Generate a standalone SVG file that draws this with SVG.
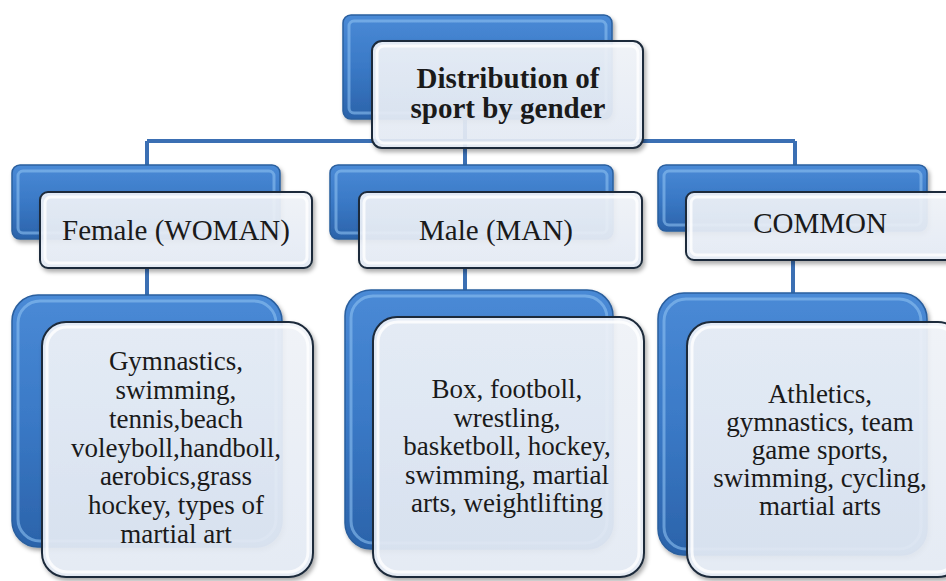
<svg xmlns="http://www.w3.org/2000/svg" width="946" height="581" viewBox="0 0 946 581" font-family="'Liberation Serif', 'Times New Roman', serif">
<defs>
<linearGradient id="blueG" x1="0" y1="0" x2="0" y2="1">
<stop offset="0" stop-color="#4a8ad6"/>
<stop offset="0.5" stop-color="#3a79c6"/>
<stop offset="1" stop-color="#2b63aa"/>
</linearGradient>
<linearGradient id="whiteG" x1="0" y1="0" x2="0" y2="1">
<stop offset="0" stop-color="#f3f6fb"/>
<stop offset="1" stop-color="#e6edf7"/>
</linearGradient>
<filter id="sh" x="-10%" y="-10%" width="130%" height="130%">
<feDropShadow dx="2" dy="3" stdDeviation="2" flood-color="#000" flood-opacity="0.35"/>
</filter>
</defs>
<style>
.back{fill:url(#blueG);stroke:#2a5f9e;stroke-width:1.5;filter:url(#sh)}
.bevel{fill:none;stroke:#8cc0f0;stroke-width:3;opacity:0.6}
.front{fill:url(#whiteG);fill-opacity:0.9;stroke:#1c2a3a;stroke-width:2;filter:url(#sh)}
.fbevel{fill:none;stroke:#ffffff;stroke-width:3;opacity:0.8}
.conn{stroke:#3b6fb3;stroke-width:4;fill:none}
text{font-family:'Liberation Serif',serif;fill:#1a1a1a;text-anchor:middle}
.t{font-size:29px}
.b{font-size:29px;font-weight:bold}
.c{font-size:27px}
</style>
<g id="connectors">
<path class="conn" d="M465 120 V165"/>
<path class="conn" d="M147 141 H795"/>
<path class="conn" d="M147 141 V165"/>
<path class="conn" d="M795 141 V165"/>
<path class="conn" d="M147 268 V295"/>
<path class="conn" d="M465 268 V290"/>
<path class="conn" d="M793 260 V293"/>
</g>
<g id="root">
<rect class="back" x="343" y="15" width="269" height="104" rx="8"/>
<rect class="bevel" x="349" y="21" width="257" height="92" rx="5"/>
<rect class="front" x="372" y="41" width="271" height="107" rx="10"/>
<rect class="fbevel" x="377" y="46" width="261" height="97" rx="7"/>
<text class="b" x="508" y="88">Distribution of</text>
<text class="b" x="508" y="118">sport by gender</text>
</g>
<g id="female">
<rect class="back" x="12" y="165" width="268" height="74" rx="8"/>
<rect class="bevel" x="18" y="171" width="256" height="62" rx="5"/>
<rect class="front" x="40" y="192" width="272" height="76" rx="8"/>
<rect class="fbevel" x="45" y="197" width="262" height="66" rx="6"/>
<text class="t" x="176" y="240">Female (WOMAN)</text>
</g>
<g id="male">
<rect class="back" x="330" y="165" width="283" height="74" rx="8"/>
<rect class="bevel" x="336" y="171" width="271" height="62" rx="5"/>
<rect class="front" x="359" y="192" width="283" height="76" rx="8"/>
<rect class="fbevel" x="364" y="197" width="273" height="66" rx="6"/>
<text class="t" x="496" y="240">Male (MAN)</text>
</g>
<g id="common">
<rect class="back" x="658" y="165" width="269" height="66" rx="8"/>
<rect class="bevel" x="664" y="171" width="257" height="54" rx="5"/>
<rect class="front" x="686" y="192" width="275" height="68" rx="8"/>
<rect class="fbevel" x="691" y="197" width="265" height="58" rx="6"/>
<text class="t" x="820" y="233">COMMON</text>
</g>
<g id="female-sports">
<rect class="back" x="12" y="295" width="270" height="252" rx="26"/>
<rect class="bevel" x="18" y="301" width="258" height="240" rx="22"/>
<rect class="front" x="42" y="322" width="271" height="255" rx="24"/>
<rect class="fbevel" x="47" y="327" width="261" height="245" rx="20"/>
<text class="c" x="176" y="370">Gymnastics,</text>
<text class="c" x="176" y="399">swimming,</text>
<text class="c" x="176" y="428">tennis,beach</text>
<text class="c" x="176" y="457">voleyboll,handboll,</text>
<text class="c" x="176" y="485">aerobics,grass</text>
<text class="c" x="176" y="514">hockey, types of</text>
<text class="c" x="176" y="543">martial art</text>
</g>
<g id="male-sports">
<rect class="back" x="345" y="290" width="268" height="259" rx="26"/>
<rect class="bevel" x="351" y="296" width="256" height="247" rx="22"/>
<rect class="front" x="373" y="317" width="271" height="260" rx="24"/>
<rect class="fbevel" x="378" y="322" width="261" height="250" rx="20"/>
<text class="c" x="507" y="398">Box, footboll,</text>
<text class="c" x="507" y="427">wrestling,</text>
<text class="c" x="507" y="455">basketboll, hockey,</text>
<text class="c" x="507" y="484">swimming, martial</text>
<text class="c" x="507" y="512">arts, weightlifting</text>
</g>
<g id="common-sports">
<rect class="back" x="658" y="293" width="269" height="262" rx="26"/>
<rect class="bevel" x="664" y="299" width="257" height="250" rx="22"/>
<rect class="front" x="687" y="322" width="275" height="255" rx="24"/>
<rect class="fbevel" x="692" y="327" width="265" height="245" rx="20"/>
<text class="c" x="820" y="403">Athletics,</text>
<text class="c" x="820" y="431">gymnastics, team</text>
<text class="c" x="820" y="459">game sports,</text>
<text class="c" x="820" y="487">swimming, cycling,</text>
<text class="c" x="820" y="515">martial arts</text>
</g>
</svg>
